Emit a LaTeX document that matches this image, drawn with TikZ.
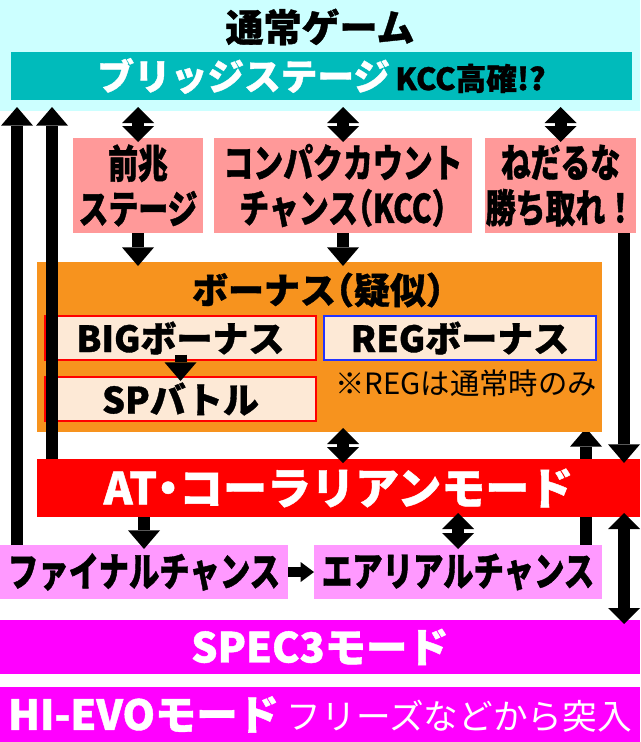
\documentclass[tikz,border=0pt]{standalone}
\usepackage{fontspec}
\setmainfont{Noto Sans CJK JP}[BoldFeatures={FakeBold=1}]
\newfontfamily\jpnarrow{Noto Sans CJK JP}[FakeStretch=0.76, BoldFeatures={FakeBold=1}]
\usetikzlibrary{arrows.meta,calc,backgrounds}
\definecolor{mizu}{HTML}{CCFFFF}
\definecolor{ao}{HTML}{00BBBB}
\definecolor{momo}{HTML}{FF9999}
\definecolor{daidai}{HTML}{F7931E}
\definecolor{hada}{HTML}{FDE9D6}
\definecolor{aka}{HTML}{FF0000}
\definecolor{fuji}{HTML}{FF99FF}
\definecolor{beni}{HTML}{FF00FF}
\definecolor{kon}{HTML}{2233FF}
\tikzset{
  area/.style={anchor=north west, inner sep=0pt, outer sep=0pt, align=center, font=\bfseries},
  fat/.style={line width=9pt, -{Triangle[width=24pt,length=14pt,line width=0pt]}, shorten >=-3pt},
  both/.style={line width=9pt, {Triangle[width=24pt,length=12pt,line width=0pt]}-{Triangle[width=24pt,length=12pt,line width=0pt]}, shorten <=-3pt, shorten >=-3pt},
  slim/.style={line width=8pt, -{Triangle[width=15pt,length=10pt,line width=0pt]}}
}
\begin{document}
\begin{tikzpicture}[x=0.75pt,y=-0.75pt]
  \useasboundingbox (0,0) rectangle (640,742);
  \node[area, fill=mizu, minimum width=480pt, minimum height=83.25pt] (normal) at (0,0) {};
  \node[font=\bfseries\fontsize{28.5}{28.5}\selectfont] (title) at (320,27) {通常ゲーム};
  \node[area, fill=ao, minimum width=465.75pt, minimum height=36pt] (bridge) at (11,52)
    {\fontsize{27.5}{27.5}\selectfont\color{white}ブリッジステージ\hspace{4pt}\color{black}\fontsize{23}{23}\selectfont KCC高確!?};
  \node[area, fill=momo, minimum width=97.5pt, minimum height=71.25pt, font=\bfseries\jpnarrow\fontsize{29.5}{34}\selectfont] (zencho) at (73,138) {前兆\\ステージ};
  \node[area, fill=momo, minimum width=193.5pt, minimum height=71.25pt, font=\bfseries\jpnarrow\addfontfeature{RawFeature=+halt}\fontsize{29.5}{34}\selectfont] (kcc) at (214,138) {コンパクカウント\\チャンス（KCC）};
  \node[area, fill=momo, minimum width=113.25pt, minimum height=71.25pt, font=\bfseries\jpnarrow\fontsize{29.5}{34}\selectfont] (nedaru) at (485,138) {ねだるな\\勝ち取れ！};
  \node[area, fill=daidai, minimum width=423.75pt, minimum height=127.5pt] (bonus) at (37,262) {};
  \node[font=\bfseries\addfontfeature{RawFeature=+halt}\fontsize{27}{27}\selectfont] (bonustitle) at (318,290) {ボーナス（疑似）};
  \node[area, fill=hada, draw=aka, line width=1pt, minimum width=203.25pt, minimum height=33pt, font=\bfseries\fontsize{27}{27}\selectfont] (big) at (45,316) {BIGボーナス};
  \node[area, fill=hada, draw=kon, line width=1pt, minimum width=204pt, minimum height=33pt, font=\bfseries\fontsize{27}{27}\selectfont] (reg) at (324,316) {REGボーナス};
  \node[area, fill=hada, draw=aka, line width=1pt, minimum width=203.25pt, minimum height=33pt, font=\bfseries\fontsize{27}{27}\selectfont] (sp) at (45,377) {SPバトル};
  \node[font=\fontsize{22}{22}\selectfont] (note) at (466,383) {※REGは通常時のみ};
  \node[area, fill=aka, text=white, minimum width=452.25pt, minimum height=43.5pt, font=\bfseries\addfontfeature{RawFeature=+halt}\fontsize{33}{33}\selectfont] (at) at (37,459) {AT・コーラリアンモード};
  \node[area, fill=fuji, minimum width=216pt, minimum height=40.5pt, font=\bfseries\jpnarrow\fontsize{30}{30}\selectfont] (final) at (0,545) {ファイナルチャンス};
  \node[area, fill=fuji, minimum width=216pt, minimum height=40.5pt, font=\bfseries\jpnarrow\fontsize{30}{30}\selectfont] (aerial) at (314,545) {エアリアルチャンス};
  \node[area, fill=beni, text=white, minimum width=480pt, minimum height=40.5pt, font=\bfseries\fontsize{31}{31}\selectfont] (spec) at (0,620) {SPEC3モード};
  \node[area, fill=beni, text=white, minimum width=480pt, minimum height=41.25pt, font=\bfseries\fontsize{31}{31}\selectfont] (hievo) at (0,687)
    {HI-EVOモード\hspace{6pt}{\mdseries\fontsize{26}{26}\selectfont フリーズなどから突入}};
  \begin{scope}[on background layer]
  \draw[fat] ($(aerial.north east)+(-16,0)$) -- ($(bonus.south west)+(549,0)$);
  \end{scope}
  \draw[fat] ($(final.north west)+(17,0)$) -- ($(normal.south west)+(17,0)$);
  \draw[fat] ($(at.north west)+(15,0)$) -- ($(normal.south west)+(52,0)$);
  \draw[both] (zencho.north) -- (zencho.north |- normal.south);
  \draw[both] (kcc.north) -- (kcc.north |- normal.south);
  \draw[both] (nedaru.north) -- (nedaru.north |- normal.south);
  \draw[fat] (zencho.south) -- (zencho.south |- bonus.north);
  \draw[fat] (kcc.south) -- (kcc.south |- bonus.north);
  \draw[fat] ($(nedaru.south east)+(-12,0)$) -- ($(at.north east)+(-16,0)$);
  \draw[fat, shorten <=-4pt] (big.south) -- (sp.north);
  \draw[both] (bonus.south -| kcc.south) -- (at.north -| kcc.south);
  \draw[fat] (at.south -| final.north) -- (final.north);
  \draw[both] (at.south -| aerial.north) -- (aerial.north);
  \draw[slim] (final.east) -- (aerial.west);
  \draw[both] ($(at.south east)+(-16,0)$) -- ($(spec.north east)+(-16,0)$);
\end{tikzpicture}
\end{document}
